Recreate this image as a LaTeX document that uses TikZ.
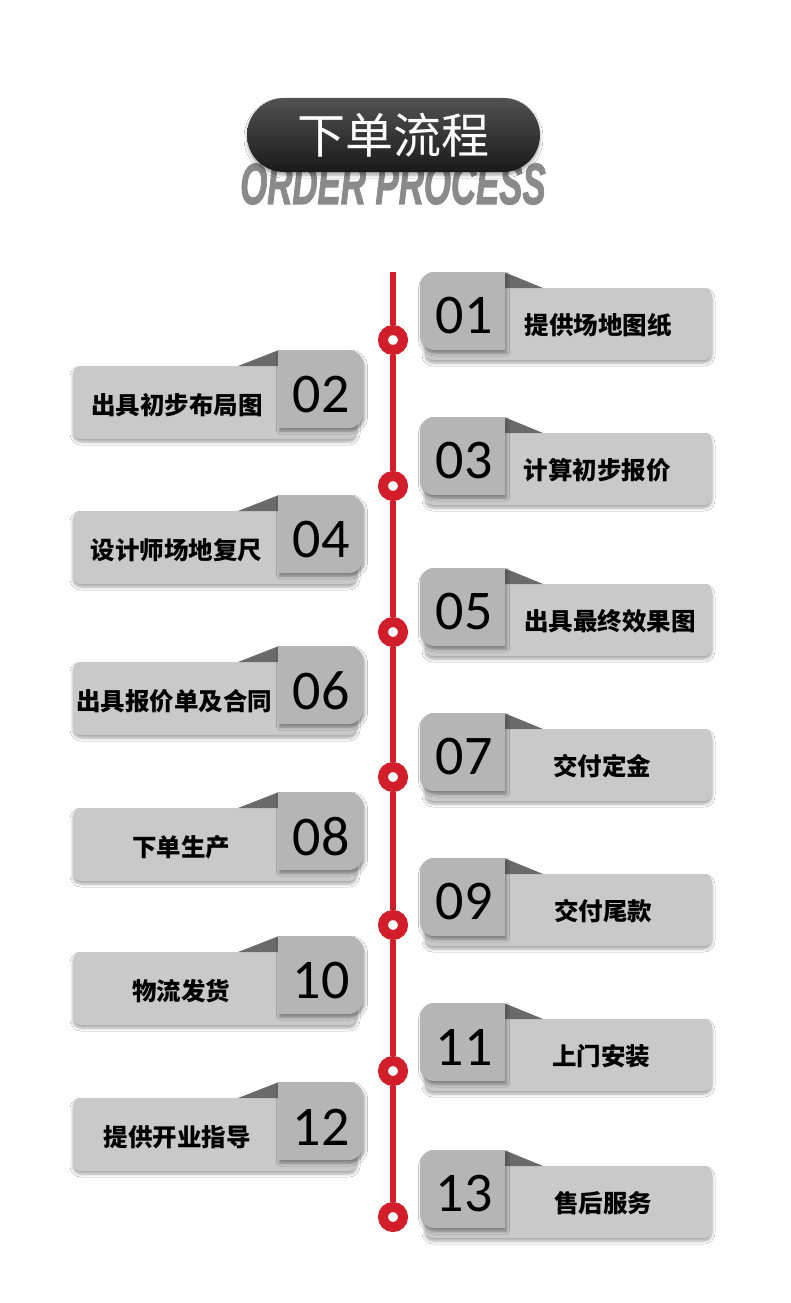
\documentclass[tikz,border=0pt]{standalone}
\usepackage{fontspec}
\newfontfamily\cjk{Noto Sans CJK SC}
\newfontfamily\numfont{Carlito}
\newfontfamily\ordfont{Liberation Sans}[UprightFont=* Bold Italic, FakeBold=2]
\usetikzlibrary{shadows.blur}
\definecolor{redline}{HTML}{D21E2A}
\definecolor{sqcol}{HTML}{B5B5B5}
\definecolor{barcol}{HTML}{C9C9C9}
\definecolor{tricol}{HTML}{6A6A6A}
\definecolor{ordcol}{HTML}{8A8A8A}
\tikzset{
 sqshadow/.style={blur shadow={shadow xshift=1.5pt, shadow yshift=-3pt, shadow blur radius=3pt, shadow opacity=40}},
 barshadow/.style={blur shadow={shadow xshift=0pt, shadow yshift=-3pt, shadow blur radius=3pt, shadow opacity=35}},
 numtext/.style={font=\numfont\fontsize{56}{56}\selectfont, text=black, inner sep=0pt},
 labtext/.style={font=\cjk\bfseries\fontsize{24.5}{25}\selectfont, text=black, inner sep=0pt},
 dot/.style={circle, fill=white, draw=redline, line width=10pt, minimum size=20pt, inner sep=0pt}
}
\newcommand\RCard[5]{%
 \fill[barcol, barshadow, rounded corners=8pt] (425,#1+16) rectangle (712,#1+88);
 \fill[tricol] (504,#1) -- (543,#1+16) -- (504,#1+16) -- cycle;
 \fill[sqcol, sqshadow] (462,#1) [rounded corners=14pt] -- (420,#1) -- (420,#1+78) -- (462,#1+78) [sharp corners] -- (505,#1+78) -- (505,#1) -- cycle;
 \node[numtext] (n#4) at (464,#1+44) {#2};
 \node[labtext] (t#4) at (#5,#1+53) {#3};
}
\newcommand\LCard[5]{%
 \fill[barcol, barshadow, rounded corners=8pt] (73,#1+16) rectangle (357,#1+89);
 \fill[tricol] (279,#1) -- (238,#1+16) -- (279,#1+16) -- cycle;
 \fill[sqcol, sqshadow] (320,#1) [rounded corners=14pt] -- (363,#1) -- (363,#1+78) -- (320,#1+78) [sharp corners] -- (278,#1+78) -- (278,#1) -- cycle;
 \node[numtext] (n#4) at (321,#1+45) {#2};
 \node[labtext] (t#4) at (#5,#1+55) {#3};
}
\begin{document}
\begin{tikzpicture}[x=1pt,y=-1pt]
\fill[white] (0,0) rectangle (790,1303);
\useasboundingbox (0,0) rectangle (790,1303);
% header
\node[inner sep=0pt, text=ordcol, font=\ordfont\fontsize{58}{58}\selectfont] (ord) at (393,184) {\scalebox{0.6}[1]{ORDER PROCESS}};
\node[rounded corners=37pt, minimum width=293pt, minimum height=74pt, inner sep=0pt,
      top color=black!68, middle color=black, bottom color=black!90,
      blur shadow={shadow xshift=0pt, shadow yshift=-3pt, shadow blur radius=3pt, shadow opacity=35},
      text=white, font=\cjk\fontsize{48}{48}\selectfont] (title) at (393.5,135) {下单流程};
% timeline
\coordinate (ltop) at (393,272);
\node[dot] (c1) at (393,340) {};
\node[dot] (c2) at (393,486) {};
\node[dot] (c3) at (393,632) {};
\node[dot] (c4) at (393,777) {};
\node[dot] (c5) at (393,925) {};
\node[dot] (c6) at (393,1071) {};
\node[dot] (c7) at (393,1217) {};
\draw[redline, line width=6pt] (ltop) -- (c1.north);
\draw[redline, line width=6pt] (c1.south) -- (c2.north);
\draw[redline, line width=6pt] (c2.south) -- (c3.north);
\draw[redline, line width=6pt] (c3.south) -- (c4.north);
\draw[redline, line width=6pt] (c4.south) -- (c5.north);
\draw[redline, line width=6pt] (c5.south) -- (c6.north);
\draw[redline, line width=6pt] (c6.south) -- (c7.north);
% cards
\RCard{272}{01}{提供场地图纸}{1}{598}
\LCard{350}{02}{出具初步布局图}{2}{177}
\RCard{417}{03}{计算初步报价}{3}{597}
\LCard{495}{04}{设计师场地复尺}{4}{176.5}
\RCard{568}{05}{出具最终效果图}{5}{610}
\LCard{646}{06}{出具报价单及合同}{6}{174}
\RCard{713}{07}{交付定金}{7}{602}
\LCard{792}{08}{下单生产}{8}{181}
\RCard{858}{09}{交付尾款}{9}{603}
\LCard{936}{10}{物流发货}{10}{181}
\RCard{1003}{11}{上门安装}{11}{601}
\LCard{1082}{12}{提供开业指导}{12}{177}
\RCard{1150}{13}{售后服务}{13}{603}
\end{tikzpicture}
\end{document}
